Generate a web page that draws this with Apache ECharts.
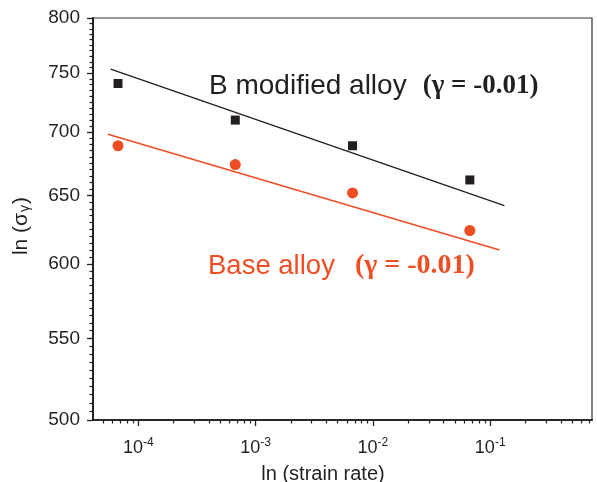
<!DOCTYPE html>
<html><head><meta charset="utf-8">
<script src="https://cdn.jsdelivr.net/npm/echarts@6/dist/echarts.min.js"></script>
<style>html,body{margin:0;padding:0;background:#fff}#c{width:597px;height:482px}</style>
</head><body><div id="c"></div>
<script>
// ---- data ----
const strainRates = [6.7e-5, 6.7e-4, 6.7e-3, 6.7e-2];
const bModified = [741, 710, 689, 662];
const baseAlloy = [689, 674, 652, 624];
const bFitX = [5.8e-5, 0.132];
const bFitY = [753.5, 642.4];
const baseFitX = [5.5e-5, 0.120];
const baseFitY = [698.3, 610.0];
const xMajorTicks = [1e-4, 1e-3, 1e-2, 1e-1];
const xMinorTicks = [5e-5, 6e-5, 7e-5, 8e-5, 9e-5,
  2e-4, 3e-4, 4e-4, 5e-4, 6e-4, 7e-4, 8e-4, 9e-4,
  2e-3, 3e-3, 4e-3, 5e-3, 6e-3, 7e-3, 8e-3, 9e-3,
  2e-2, 3e-2, 4e-2, 5e-2, 6e-2, 7e-2, 8e-2, 9e-2,
  2e-1, 3e-1, 4e-1, 5e-1, 6e-1, 7e-1];
const yMajorTicks = [500, 550, 600, 650, 700, 750, 800];
const yMinorTicks = [505, 510, 515, 520, 525, 530, 535, 540, 545,
  555, 560, 565, 570, 575, 580, 585, 590, 595,
  605, 610, 615, 620, 625, 630, 635, 640, 645,
  655, 660, 665, 670, 675, 680, 685, 690, 695,
  705, 710, 715, 720, 725, 730, 735, 740, 745,
  755, 760, 765, 770, 775, 780, 785, 790, 795];
const xMin = 4.1e-5, xMax = 0.738, yMin = 500, yMax = 800;

const RED = '#EF4E23', BLK = '#231F20';
const SANS = "'Liberation Sans', Arial, Helvetica, sans-serif";
const SERIF = "'Liberation Serif', 'Times New Roman', serif";

const chart = echarts.init(document.getElementById('c'), null, {renderer: 'canvas'});
const option = {
  animation: false,
  backgroundColor: '#fff',
  grid: {left: 93, right: 5, top: 18, bottom: 62, show: true, borderColor: '#333', borderWidth: 1.2, outerBoundsMode: 'none'},
  xAxis: [{
    type: 'log', min: xMin, max: xMax, position: 'bottom',
    axisLine: {show: true, onZero: false, lineStyle: {color: BLK, width: 1.6}},
    axisTick: {show: true, length: 6, lineStyle: {color: BLK, width: 1.3}, customValues: xMajorTicks},
    axisLabel: {
      show: true, margin: 17, customValues: xMajorTicks,
      formatter: v => '{b|10}{s|' + Math.round(Math.log10(v)) + '}',
      rich: {
        b: {fontFamily: SANS, fontSize: 18, color: BLK},
        s: {fontFamily: SANS, fontSize: 12, color: BLK, padding: [0, 0, 10, 0]}
      }
    },
    splitLine: {show: false}, minorTick: {show: false},
    name: 'ln (strain rate)', nameLocation: 'middle', nameGap: 44,
    nameTextStyle: {fontFamily: SANS, fontSize: 20, color: BLK, padding: [0, 39, 0, 0]}
  }, {
    type: 'log', min: xMin, max: xMax, position: 'bottom',
    axisLine: {show: true, onZero: false, lineStyle: {color: BLK, width: 1.6}},
    axisTick: {show: true, length: 3.5, lineStyle: {color: BLK, width: 1.2}, customValues: xMinorTicks},
    axisLabel: {show: false}, splitLine: {show: false}
  }],
  yAxis: [{
    type: 'log', min: yMin, max: yMax, position: 'left',
    axisLine: {show: true, onZero: false, lineStyle: {color: BLK, width: 1.6}},
    axisTick: {show: true, length: 6, lineStyle: {color: BLK, width: 1.3}, customValues: yMajorTicks},
    axisLabel: {show: true, margin: 13, customValues: yMajorTicks, fontFamily: SANS, fontSize: 19, color: BLK,
      formatter: v => String(Math.round(v))},
    splitLine: {show: false}, minorTick: {show: false},
    name: 'ln (σ{sub|γ})', nameLocation: 'middle', nameGap: 61, nameRotate: 90,
    nameTextStyle: {fontFamily: SANS, fontSize: 21, color: BLK, padding: [0, 14, 0, 0],
      rich: {sub: {fontFamily: SANS, fontSize: 14, color: BLK, padding: [8, 1, 0, 1]}}}
  }, {
    type: 'log', min: yMin, max: yMax, position: 'left',
    axisLine: {show: true, onZero: false, lineStyle: {color: BLK, width: 1.6}},
    axisTick: {show: true, length: 3.5, lineStyle: {color: BLK, width: 1.2}, customValues: yMinorTicks},
    axisLabel: {show: false}, splitLine: {show: false}
  }],
  series: [{
    type: 'line', data: bFitX.map((x, i) => [x, bFitY[i]]), symbol: 'none',
    lineStyle: {color: BLK, width: 1.3}, z: 2
  }, {
    type: 'line', data: baseFitX.map((x, i) => [x, baseFitY[i]]), symbol: 'none',
    lineStyle: {color: RED, width: 1.6}, z: 2
  }, {
    type: 'scatter', data: strainRates.map((x, i) => [x, bModified[i]]), symbol: 'rect', symbolSize: 9,
    itemStyle: {color: BLK, opacity: 1}, z: 3
  }, {
    type: 'scatter', data: strainRates.map((x, i) => [x, baseAlloy[i]]), symbol: 'circle', symbolSize: 11,
    itemStyle: {color: RED, opacity: 1}, z: 3
  }],
  graphic: [{
    type: 'text', x: 209, y: 86, z: 10,
    style: {
      text: '{a|B modified alloy}{b|(γ = -0.01)}', verticalAlign: 'middle',
      rich: {
        a: {fontFamily: SANS, fontSize: 28, fill: BLK, color: BLK},
        b: {fontFamily: SERIF, fontSize: 27, fontWeight: 'bold', fill: BLK, color: BLK, padding: [0, 0, 0, 16]}
      }
    }
  }, {
    type: 'text', x: 208, y: 266, z: 10,
    style: {
      text: '{a|Base alloy}{b|(γ = -0.01)}', verticalAlign: 'middle',
      rich: {
        a: {fontFamily: SANS, fontSize: 27.5, fill: RED, color: RED},
        b: {fontFamily: SERIF, fontSize: 28, fontWeight: 'bold', fill: RED, color: RED, padding: [0, 0, 0, 20]}
      }
    }
  }]
};
chart.setOption(option);
</script></body></html>
